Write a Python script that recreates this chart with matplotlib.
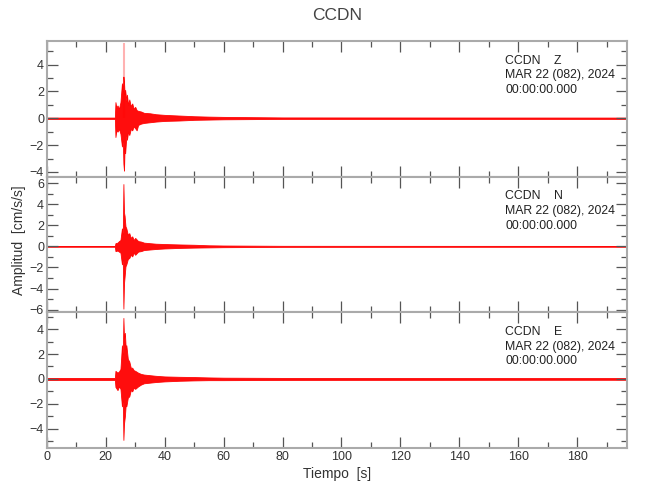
import matplotlib
matplotlib.use("Agg")
import matplotlib.pyplot as plt
from matplotlib.ticker import MultipleLocator

plt.rcParams['font.family'] = ['Liberation Sans', 'DejaVu Sans']

# envelope of each trace: time [s], upper, lower [cm/s/s]
t_z = [0, 23.1, 23.3, 23.6, 24.0, 24.5, 25.0, 25.5, 25.8, 26.0, 26.2, 26.4, 26.6, 27.0, 27.2, 27.6,
       28.0, 28.5, 29.0, 29.5, 30.0, 30.5, 31.0, 32.0, 33.0, 35.0, 37.0, 40.0, 45.0, 50.0, 55.0, 60.0, 80.0, 197]
up_z = [0.05, 0.05, 1.2, 0.8, 0.95, 0.7, 1.2, 2.6, 2.0, 3.1, 2.7, 1.8, 2.1, 1.3, 1.75, 1.0,
        1.4, 0.9, 1.1, 0.7, 0.85, 0.6, 0.55, 0.5, 0.4, 0.37, 0.3, 0.25, 0.2, 0.15, 0.12, 0.1, 0.06, 0.05]
lo_z = [-0.05, -0.05, -1.4, -0.9, -1.0, -0.8, -1.15, -2.1, -1.7, -3.4, -3.9, -2.2, -2.6, -1.3, -1.6, -1.0,
        -1.25, -0.8, -0.9, -0.6, -0.75, -0.9, -0.5, -0.4, -0.35, -0.3, -0.25, -0.2, -0.17, -0.12, -0.1, -0.08, -0.05, -0.05]
spike_z = (26.2, 5.6)

t_n = [0, 23.1, 23.3, 24.0, 24.5, 25.0, 25.5, 25.8, 26.0, 26.2, 26.4, 26.7, 27.0, 27.5,
       28.0, 28.5, 29.0, 29.5, 30.0, 31.0, 32.0, 33.0, 35.0, 37.0, 40.0, 45.0, 50.0, 55.0, 60.0, 80.0, 197]
up_n = [0.04, 0.04, 0.3, 0.35, 0.5, 0.6, 1.7, 1.2, 5.9, 3.2, 2.9, 1.9, 1.7, 1.1,
        1.25, 0.8, 0.95, 0.6, 0.8, 0.5, 0.45, 0.35, 0.3, 0.25, 0.22, 0.18, 0.15, 0.1, 0.08, 0.05, 0.04]
lo_n = [-0.04, -0.04, -0.45, -0.4, -0.5, -0.6, -1.7, -1.3, -5.9, -3.5, -2.9, -1.9, -1.7, -1.2,
        -1.1, -0.8, -0.95, -0.6, -0.8, -0.5, -0.45, -0.35, -0.3, -0.25, -0.2, -0.15, -0.12, -0.1, -0.08, -0.05, -0.04]

t_e = [0, 23.1, 23.3, 24.0, 24.5, 25.0, 25.5, 25.8, 26.0, 26.2, 26.5, 26.8, 27.0, 27.5,
       28.0, 28.5, 29.0, 29.5, 30.0, 31.0, 32.0, 33.0, 35.0, 37.0, 40.0, 45.0, 50.0, 55.0, 60.0, 80.0, 197]
up_e = [0.08, 0.08, 0.65, 0.5, 0.6, 0.8, 2.7, 2.0, 4.9, 3.3, 3.7, 2.4, 2.7, 1.6,
        1.4, 0.9, 0.9, 0.7, 0.65, 0.5, 0.4, 0.35, 0.3, 0.25, 0.2, 0.17, 0.15, 0.12, 0.1, 0.08, 0.07]
lo_e = [-0.08, -0.08, -0.65, -0.9, -0.6, -0.8, -2.2, -1.8, -4.9, -3.6, -3.0, -2.0, -2.2, -1.5,
        -1.4, -0.9, -1.0, -0.7, -0.8, -0.6, -0.45, -0.35, -0.3, -0.25, -0.2, -0.15, -0.12, -0.1, -0.1, -0.08, -0.07]

comps = ['Z', 'N', 'E']
ylims = [(-4.35, 5.75), (-6.25, 6.6), (-5.55, 5.35)]
header = "MAR 22 (082), 2024\n00:00:00.000"

fig, axes = plt.subplots(3, 1, figsize=(6.5, 5), dpi=100, sharex=True)
fig.subplots_adjust(left=0.072, right=0.965, top=0.918, bottom=0.104, hspace=0)

traces = [(t_z, up_z, lo_z), (t_n, up_n, lo_n), (t_e, up_e, lo_e)]
for ax, (t, up, lo), comp, yl in zip(axes, traces, comps, ylims):
    ax.fill_between(t, lo, up, color='red', lw=0.6, alpha=0.95)
    ax.set_ylim(*yl)
    ax.set_xlim(0, 197)
    ax.xaxis.set_major_locator(MultipleLocator(20))
    ax.xaxis.set_minor_locator(MultipleLocator(10))
    ax.yaxis.set_major_locator(MultipleLocator(2))
    ax.yaxis.set_minor_locator(MultipleLocator(1))
    ax.tick_params(which='both', direction='in', top=True, right=True, color='#555555',
                   labelcolor='#333333', labelsize=9, pad=2)
    ax.tick_params(which='major', length=8, width=0.9)
    ax.tick_params(which='minor', length=4, width=0.9)
    for s in ax.spines.values():
        s.set_color('#aaaaaa')
        s.set_linewidth(1.5)
    ax.text(0.79, 0.9, "CCDN    " + comp + "\n" + header, transform=ax.transAxes,
            va='top', ha='left', fontsize=8.8, color='#222222', linespacing=1.3)

axes[0].vlines(spike_z[0], 0, spike_z[1], color='red', alpha=0.3, lw=1.5)

axes[2].set_xlabel("Tiempo  [s]", fontsize=10, color='#333333', labelpad=3)
fig.text(0.03, 0.52, "Amplitud  [cm/s/s]", rotation=90, ha='center', va='center',
         fontsize=10, color='#333333')
fig.suptitle("CCDN", x=0.518, y=0.985, fontsize=12.5, color='#444444')

fig.savefig("out.png")
